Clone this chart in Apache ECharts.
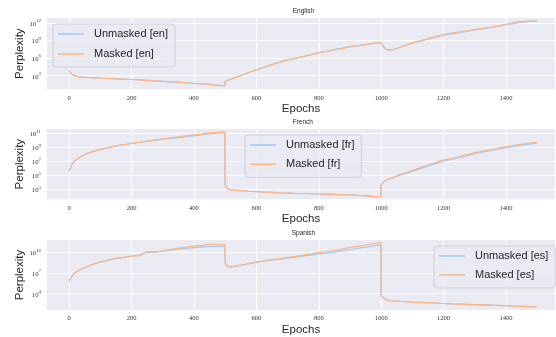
<!DOCTYPE html>
<html><head><meta charset="utf-8">
<script src="https://cdn.jsdelivr.net/npm/echarts@6/dist/echarts.min.js"></script>
<style>html,body{margin:0;padding:0;background:#fff}#c{width:556px;height:337px}</style>
</head><body><div id="c"></div>
<script>
const epochs = [0,3,8,15,25,40,60,80,100,125,150,175,200,225,250,275,300,325,350,375,400,425,450,475,499,
  500,503,508,515,525,550,575,600,625,650,675,700,725,750,775,800,825,850,875,900,925,950,975,999,
  1000,1003,1008,1015,1025,1040,1060,1080,1100,1125,1150,1175,1200,1225,1250,1275,1300,1325,1350,1375,1400,1425,1450,1475,1499];
const xTicks = [0,200,400,600,800,1000,1200,1400];
const languages = ['English','French','Spanish'];
const codes = ['en','fr','es'];

// log10(perplexity)
const enUnmaskedLog10 = [3.95,3.6,3.25,3.05,2.9,2.76,2.7,2.64,2.57,2.53,2.47,2.41,2.36,2.29,2.21,2.13,2.05,1.97,1.89,1.8,1.71,1.63,1.53,1.42,1.28,
  2.0,2.08,2.2,2.35,2.55,3.05,3.55,4.0,4.45,4.9,5.32,5.68,5.95,6.27,6.6,6.94,7.17,7.45,7.7,7.98,8.12,8.3,8.5,8.66,
  8.6,8.28,7.88,7.53,7.38,7.45,7.8,8.2,8.55,8.88,9.22,9.55,9.9,10.1,10.32,10.52,10.78,10.98,11.2,11.4,11.7,11.85,12.1,12.25,12.3];
const enMaskedLog10 = [3.95,3.6,3.25,3.05,2.9,2.76,2.7,2.64,2.58,2.53,2.47,2.42,2.36,2.29,2.22,2.13,2.05,1.99,1.9,1.8,1.72,1.63,1.53,1.42,1.28,
  2.0,2.08,2.2,2.35,2.55,3.05,3.55,4.0,4.45,4.9,5.3,5.65,5.95,6.25,6.6,6.94,7.15,7.4,7.6,7.9,8.1,8.3,8.5,8.68,
  8.62,8.3,7.9,7.55,7.4,7.5,7.85,8.25,8.6,8.95,9.3,9.65,10.05,10.25,10.45,10.65,10.9,11.05,11.25,11.45,11.75,12.1,12.2,12.28,12.3];
const frUnmaskedLog10 = [5.61,6.0,6.45,6.95,7.3,7.75,8.15,8.45,8.7,8.93,9.18,9.36,9.55,9.7,9.86,10.02,10.15,10.28,10.38,10.5,10.62,10.75,10.92,11.0,11.08,
  3.6,3.2,3.05,2.93,2.88,2.8,2.72,2.66,2.6,2.55,2.5,2.46,2.42,2.4,2.36,2.33,2.3,2.26,2.22,2.19,2.13,2.07,2.0,1.94,
  3.6,3.82,4.05,4.25,4.43,4.65,4.98,5.25,5.55,5.95,6.3,6.68,7.0,7.25,7.5,7.8,8.08,8.3,8.5,8.72,8.93,9.1,9.3,9.45,9.58];
const frMaskedLog10 = [5.61,6.0,6.45,6.95,7.3,7.75,8.15,8.45,8.71,8.95,9.2,9.38,9.57,9.72,9.88,10.05,10.2,10.35,10.48,10.62,10.76,10.88,11.1,11.12,11.2,
  3.6,3.2,3.05,2.93,2.88,2.8,2.72,2.66,2.6,2.55,2.5,2.46,2.42,2.4,2.36,2.33,2.3,2.26,2.22,2.19,2.13,2.07,2.0,1.94,
  3.6,3.85,4.1,4.3,4.5,4.75,5.1,5.4,5.7,6.1,6.47,6.85,7.19,7.4,7.65,7.95,8.23,8.45,8.65,8.88,9.09,9.25,9.45,9.6,9.71];
const esUnmaskedLog10 = [5.73,6.1,6.5,6.9,7.2,7.6,8.0,8.35,8.62,8.9,9.15,9.3,9.5,9.55,10.1,10.05,10.2,10.38,10.5,10.6,10.72,10.8,10.88,10.88,10.9,
  8.4,8.1,7.93,7.88,7.93,8.12,8.37,8.58,8.75,8.92,9.02,9.2,9.32,9.48,9.62,9.8,9.93,10.06,10.25,10.45,10.62,10.8,10.98,11.12,
  3.8,3.5,3.3,3.15,3.02,2.95,2.88,2.83,2.79,2.75,2.7,2.65,2.58,2.53,2.5,2.45,2.4,2.37,2.33,2.3,2.25,2.2,2.17,2.13,2.1];
const esMaskedLog10 = [5.73,6.1,6.5,6.9,7.2,7.6,8.0,8.35,8.62,8.9,9.15,9.3,9.5,9.55,10.15,10.1,10.25,10.45,10.65,10.8,10.95,11.05,11.22,11.15,11.2,
  8.6,8.15,7.95,7.9,7.95,8.15,8.4,8.62,8.8,9.0,9.1,9.3,9.45,9.62,9.8,10.0,10.15,10.3,10.5,10.75,10.9,11.1,11.3,11.45,
  3.8,3.5,3.3,3.15,3.02,2.95,2.88,2.83,2.79,2.75,2.7,2.65,2.58,2.53,2.5,2.45,2.4,2.37,2.33,2.3,2.25,2.2,2.17,2.13,2.1];

const yTickExponents = [[3,6,9,12],[3,5,7,9,11],[4,7,10]];
const yRangeExponents = [[0.695,12.82],[1.57,11.61],[1.63,11.83]];

const unmasked = [enUnmaskedLog10, frUnmaskedLog10, esUnmaskedLog10];
const masked = [enMaskedLog10, frMaskedLog10, esMaskedLog10];

const BLUE = '#a1c9f4', ORANGE = '#ffb482';
const gridTops = [18, 129, 240];
const gridHeights = [71.3, 70.3, 70.7];
const titleLefts = [292.7, 292.7, 291.7];
const titleTops = [7.7, 118.3, 229.3];
const legendPos = [
  {left: 53, top: 24, padding: [4, 7, 7, 5], itemGap: 8},
  {left: 245, top: 135, padding: [4, 7, 7, 5], itemGap: 7.3},
  {left: 434, top: 246, padding: [4, 7, 7, 5], itemGap: 7}
];

const chart = echarts.init(document.getElementById('c'), null, {renderer: 'canvas'});
const option = {animation: false, backgroundColor: '#fff', grid: [], xAxis: [], yAxis: [], series: [], title: [], legend: []};
for (let i = 0; i < 3; i++) {
  option.grid.push({left: 47, right: 1, top: gridTops[i], height: gridHeights[i], show: true,
    backgroundColor: '#eaeaf2', borderWidth: 0, containLabel: false});
  option.title.push({text: languages[i], left: titleLefts[i], top: titleTops[i], padding: 0,
    textStyle: {fontFamily: 'Liberation Sans', fontSize: 6.5, fontWeight: 'normal', color: '#262626'}});
  option.xAxis.push({type: 'value', gridIndex: i, min: -71, max: 1557,
    axisLine: {show: false}, axisTick: {show: false, customValues: xTicks},
    axisLabel: {customValues: xTicks, formatter: v => String(v),
      fontFamily: 'Liberation Serif', fontSize: 6.5, color: '#333', margin: 5},
    splitLine: {show: true, lineStyle: {color: '#ffffff', width: 1}},
    name: 'Epochs', nameLocation: 'middle', nameGap: 14, nameMoveOverlap: false,
    nameTextStyle: {fontFamily: 'Liberation Sans', fontSize: 11.5, color: '#262626'}});
  const tv = yTickExponents[i].map(e => Math.pow(10, e));
  option.yAxis.push({type: 'log', logBase: 10, gridIndex: i,
    min: Math.pow(10, yRangeExponents[i][0]), max: Math.pow(10, yRangeExponents[i][1]),
    axisLine: {show: false}, axisTick: {show: false, customValues: tv},
    axisLabel: {customValues: tv, margin: 6,
      formatter: v => '{b|10}{s|' + Math.round(Math.log10(v)) + '}',
      rich: {b: {fontFamily: 'Liberation Serif', fontSize: 6.8, color: '#333', lineHeight: 9, verticalAlign: 'bottom'},
             s: {fontFamily: 'Liberation Serif', fontSize: 4.8, color: '#333', lineHeight: 9, verticalAlign: 'top'}}},
    splitLine: {show: true, lineStyle: {color: '#ffffff', width: 1}},
    name: 'Perplexity', nameLocation: 'middle', nameGap: 21, nameMoveOverlap: false,
    nameTextStyle: {fontFamily: 'Liberation Sans', fontSize: 11.5, color: '#262626'}});
  const nU = 'Unmasked [' + codes[i] + ']', nM = 'Masked [' + codes[i] + ']';
  option.series.push({type: 'line', name: nU, xAxisIndex: i, yAxisIndex: i, symbol: 'none', showSymbol: false,
    color: BLUE, lineStyle: {color: BLUE, width: 1.2}, z: 2,
    data: epochs.map((e, j) => [e, Math.pow(10, unmasked[i][j])])});
  option.series.push({type: 'line', name: nM, xAxisIndex: i, yAxisIndex: i, symbol: 'none', showSymbol: false,
    color: ORANGE, lineStyle: {color: ORANGE, width: 1.2}, z: 3,
    data: epochs.map((e, j) => [e, Math.pow(10, masked[i][j])])});
  const lp = legendPos[i];
  option.legend.push({data: [nU, nM], orient: 'vertical', left: lp.left, top: lp.top, padding: lp.padding,
    itemGap: lp.itemGap, icon: 'rect', itemWidth: 26, itemHeight: 1.5,
    backgroundColor: 'rgba(234,234,242,0.85)', borderColor: '#cfcfd8', borderWidth: 1, borderRadius: 3,
    textStyle: {fontFamily: 'Liberation Sans', fontSize: 11, color: '#262626', lineHeight: 12, padding: [0, 0, 0, 5]}});
}
chart.setOption(option);
</script></body></html>
